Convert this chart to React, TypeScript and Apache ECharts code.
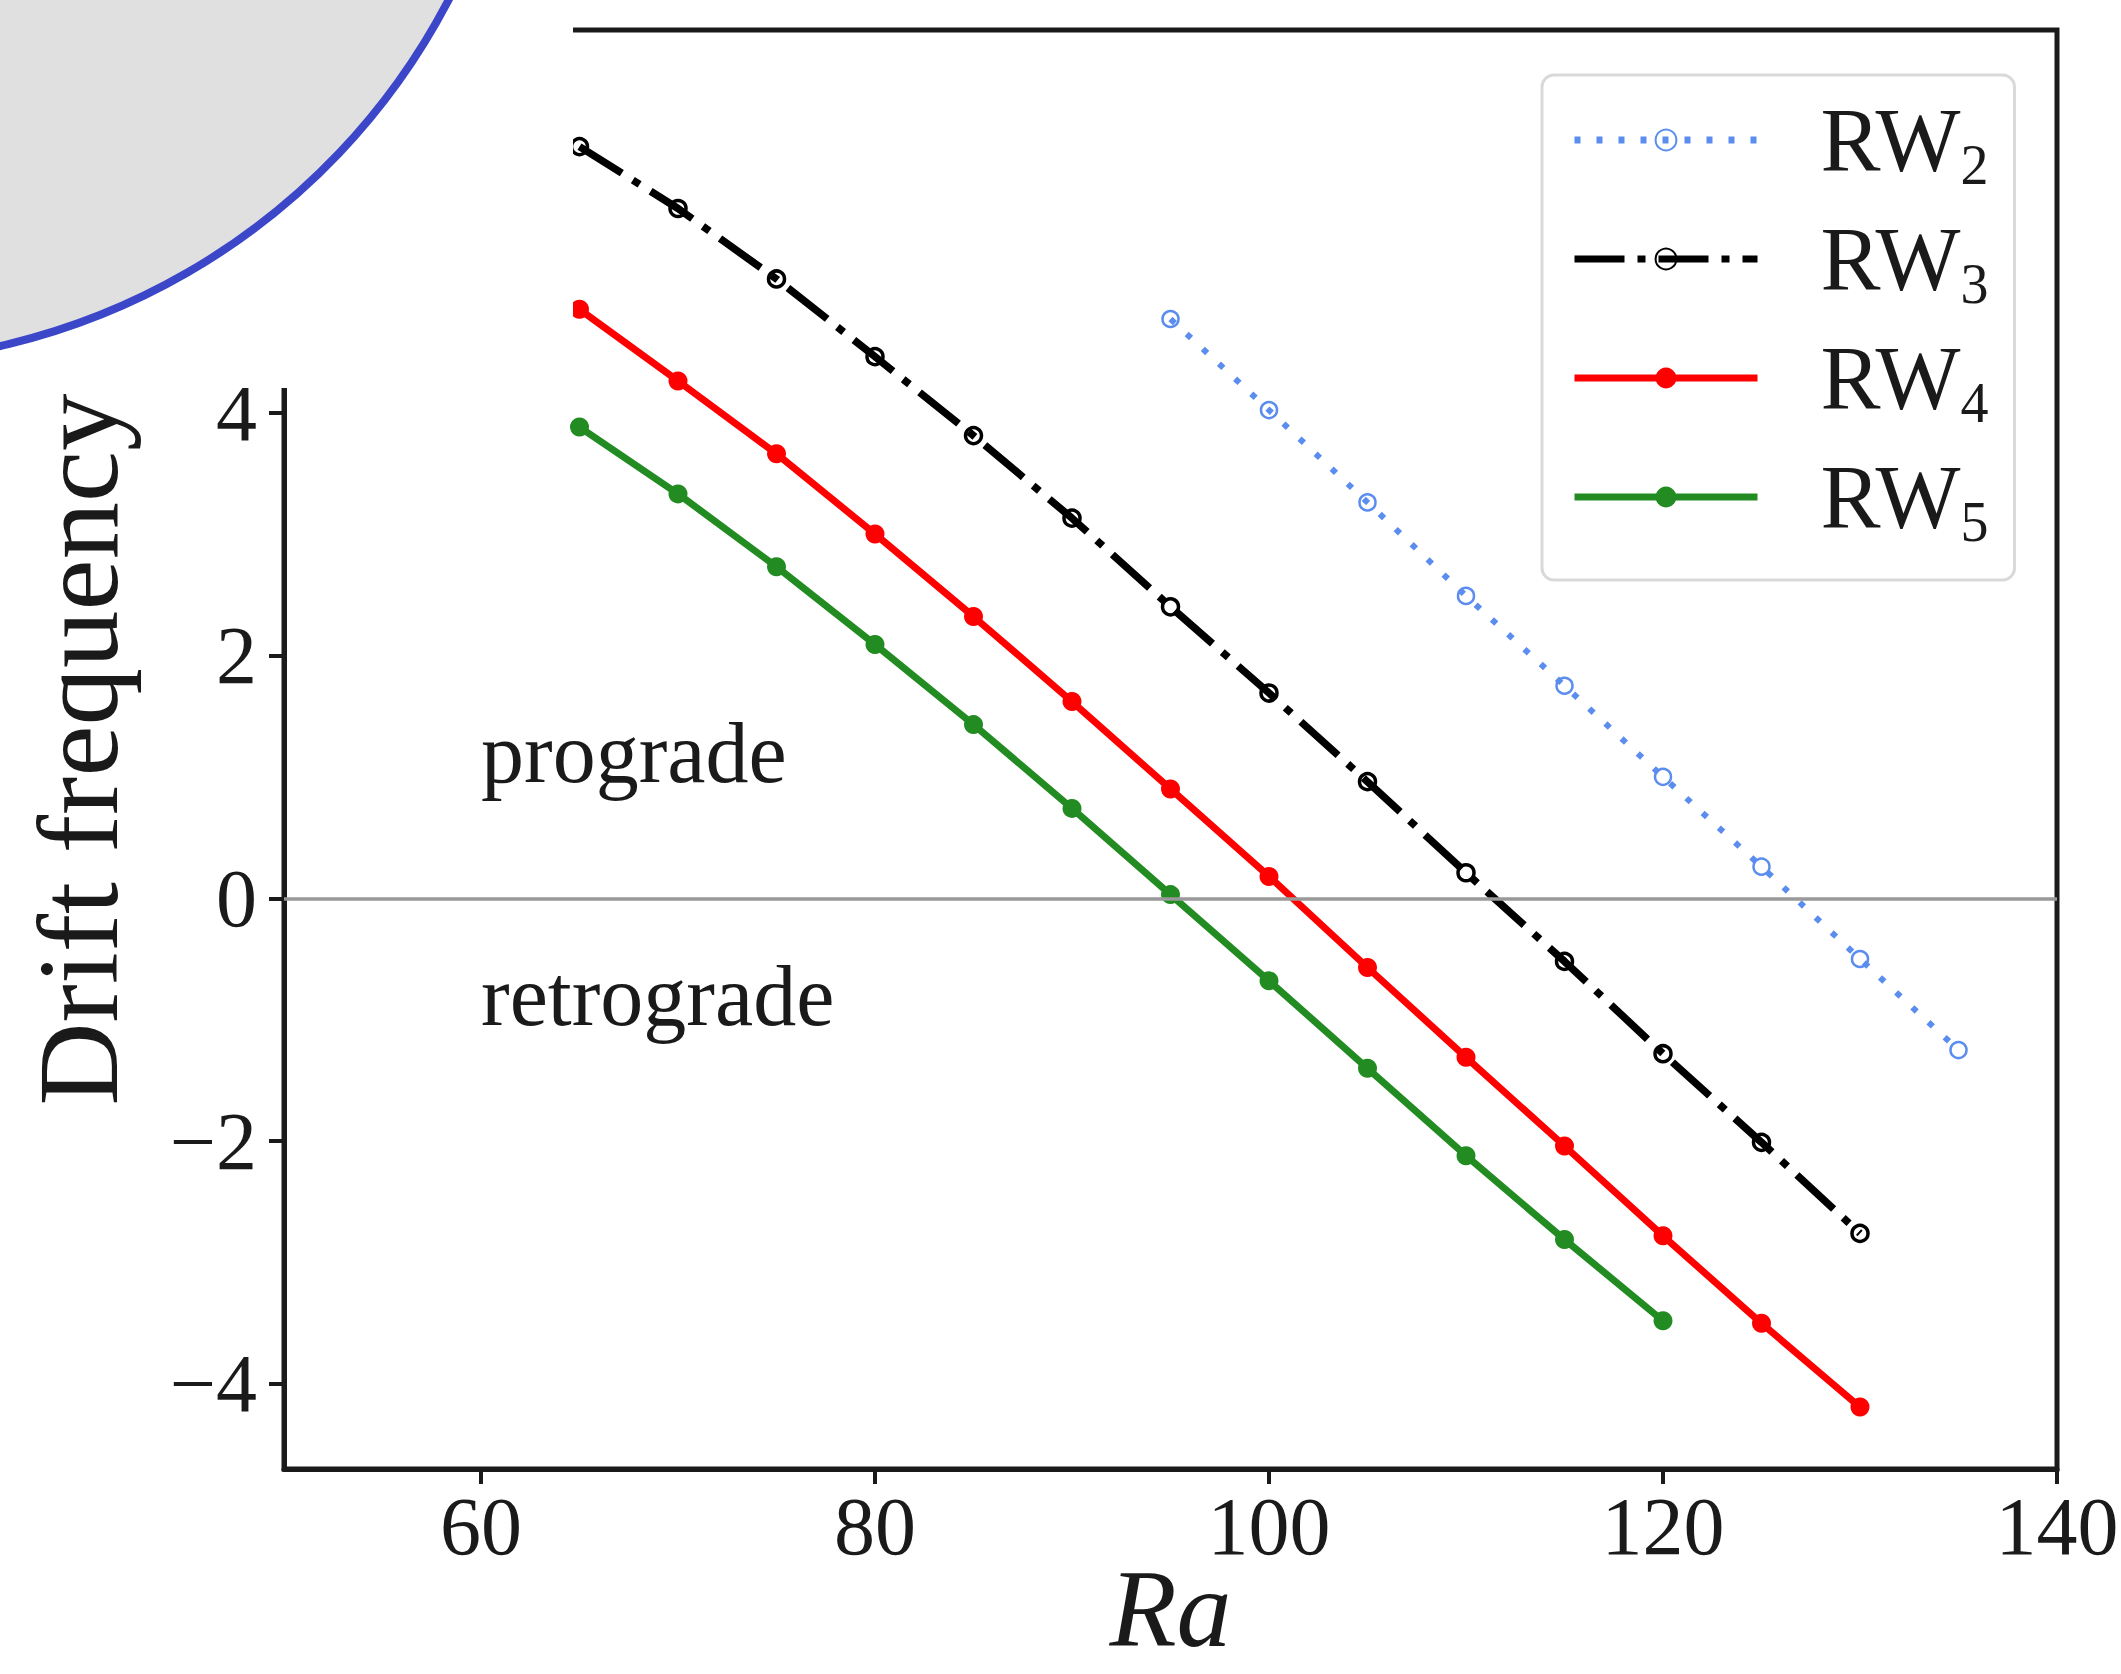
import React, { useEffect, useRef } from "react";
import * as echarts from "echarts";

// ---------- data ----------
const RA_RW2 = [95, 100, 105, 110, 115, 120, 125, 130, 135];
const RW2 = [4.77, 4.02, 3.26, 2.49, 1.75, 1.0, 0.26, -0.5, -1.25];

const RA_RW3 = [65, 70, 75, 80, 85, 90, 95, 100, 105, 110, 115, 120, 125, 130];
const RW3 = [6.19, 5.68, 5.1, 4.46, 3.81, 3.13, 2.4, 1.69, 0.96, 0.21, -0.52, -1.28, -2.01, -2.76];

const RA_RW4 = [65, 70, 75, 80, 85, 90, 95, 100, 105, 110, 115, 120, 125, 130];
const RW4 = [4.85, 4.26, 3.66, 3.0, 2.32, 1.62, 0.9, 0.18, -0.57, -1.31, -2.04, -2.78, -3.5, -4.19];

const RA_RW5 = [65, 70, 75, 80, 85, 90, 95, 100, 105, 110, 115, 120];
const RW5 = [3.88, 3.33, 2.73, 2.09, 1.43, 0.74, 0.03, -0.68, -1.4, -2.12, -2.81, -3.48];

const X_TICKS = [60, 80, 100, 120, 140];
const Y_TICKS = [-4, -2, 0, 2, 4, 6];

const ANNOTATIONS = [
  { text: "prograde", x: 60, y: 1 },
  { text: "retrograde", x: 60, y: -1 },
];

const FONT = '"Liberation Serif", "DejaVu Serif", serif';
const INK = "#1a1a1a";

const zip = (xs: number[], ys: number[]) => xs.map((x, i) => [x, ys[i]]);

export default function App() {
  const ref = useRef<HTMLDivElement>(null);

  useEffect(() => {
    if (!ref.current) return;
    const chart = echarts.init(ref.current, undefined, { renderer: "svg" });

    const axisCommon = {
      axisLine: { show: true, onZero: false, lineStyle: { color: INK, width: 5 } },
      axisTick: { show: true, inside: false, length: 15, lineStyle: { color: INK, width: 4 } },
      splitLine: { show: false },
    };

    chart.setOption({
      animation: false,
      backgroundColor: "#ffffff",
      grid: {
        left: 284,
        right: 64,
        top: 30,
        bottom: 205,
        containLabel: false,
        outerBoundsMode: "none",
        show: true,
        borderColor: INK,
        borderWidth: 5,
        backgroundColor: "rgba(0,0,0,0)",
      },
      xAxis: {
        type: "value",
        min: 50,
        max: 140,
        ...axisCommon,
        axisTick: { ...axisCommon.axisTick, customValues: X_TICKS },
        axisLabel: {
          customValues: X_TICKS,
          margin: 16,
          color: INK,
          fontFamily: FONT,
          fontSize: 82,
        },
        name: "Ra",
        nameLocation: "middle",
        nameGap: 90,
        nameMoveOverlap: false,
        nameTextStyle: {
          fontFamily: FONT,
          fontStyle: "italic",
          fontSize: 110,
          lineHeight: 100,
          color: INK,
        },
      },
      yAxis: {
        type: "value",
        min: -4.7,
        max: 7.15,
        ...axisCommon,
        axisTick: { ...axisCommon.axisTick, customValues: Y_TICKS },
        axisLabel: {
          customValues: Y_TICKS,
          margin: 27,
          color: INK,
          fontFamily: FONT,
          fontSize: 82,
          formatter: (v: number) => String(v).replace("-", "\u2212"),
        },
        name: "Drift frequency",
        nameLocation: "middle",
        nameGap: 148,
        nameMoveOverlap: false,
        nameTextStyle: { fontFamily: FONT, fontSize: 115, color: INK },
      },
      legend: {
        left: 1542,
        top: 75,
        orient: "vertical",
        data: ["RW2", "RW3", "RW4", "RW5"],
        itemWidth: 183,
        itemHeight: 26,
        itemGap: 13,
        backgroundColor: "rgba(255,255,255,0.85)",
        borderColor: "#d9d9d9",
        borderWidth: 3,
        borderRadius: 12,
        padding: [12, 26, 30, 29],
        lineStyle: { width: 7 },
        formatter: (name: string) => `{r|RW}{s|${name.slice(2)}}`,
        textStyle: {
          color: INK,
          fontFamily: FONT,
          padding: [0, 0, 0, 58],
          rich: {
            r: { fontFamily: FONT, fontSize: 90, lineHeight: 104, color: INK },
            s: { fontFamily: FONT, fontSize: 56, lineHeight: 54, padding: [50, 0, 0, 0], color: INK },
          },
        },
      },
      series: [
        {
          name: "zero",
          type: "line",
          data: [],
          z: 1,
          silent: true,
          markLine: {
            silent: true,
            symbol: "none",
            label: { show: false },
            lineStyle: { color: "#999999", width: 3.5, type: "solid" },
            data: [{ yAxis: 0 }],
          },
        },
        {
          name: "RW2",
          type: "line",
          data: zip(RA_RW2, RW2),
          z: 3,
          symbol: "circle",
          symbolSize: 16,
          lineStyle: { color: "#5b8def", width: 6, type: [6, 16], cap: "butt" },
          itemStyle: { color: "rgba(255,255,255,0)", borderColor: "#5b8def", borderWidth: 2.5 },
        },
        {
          name: "RW3",
          type: "line",
          data: zip(RA_RW3, RW3),
          z: 3,
          symbol: "circle",
          symbolSize: 16,
          lineStyle: { color: "#000000", width: 7.5, type: [50, 13, 8, 13], cap: "butt" },
          itemStyle: { color: "rgba(255,255,255,0)", borderColor: "#000000", borderWidth: 3.5 },
        },
        {
          name: "RW4",
          type: "line",
          data: zip(RA_RW4, RW4),
          z: 3,
          symbol: "circle",
          symbolSize: 19,
          lineStyle: { color: "#ff0000", width: 7 },
          itemStyle: { color: "#ff0000", borderWidth: 0 },
        },
        {
          name: "RW5",
          type: "line",
          data: zip(RA_RW5, RW5),
          z: 3,
          symbol: "circle",
          symbolSize: 19,
          lineStyle: { color: "#228b22", width: 7 },
          itemStyle: { color: "#228b22", borderWidth: 0 },
        },
      ],
    });

    const ANN_SIZE = 86;
    const texts = ANNOTATIONS.map((a, i) => {
      const p = chart.convertToPixel({ gridIndex: 0 }, [a.x, a.y]) as number[];
      return {
        type: "text",
        id: "ann" + i,
        z: 50,
        x: p[0],
        y: p[1] + 19,
        style: {
          text: a.text,
          fontFamily: FONT,
          fontSize: ANN_SIZE,
          fill: INK,
          align: "left",
          verticalAlign: "bottom",
        },
      };
    });

    chart.setOption({
      graphic: [
        ...texts,
        {
          type: "rect",
          id: "cover",
          z: 100,
          shape: { x: 0, y: 0, width: 573, height: 388 },
          style: { fill: "#ffffff" },
        },
        {
          type: "circle",
          id: "disc",
          z: 101,
          shape: { cx: -150, cy: -312, r: 675 },
          style: { fill: "#e0e0e0", stroke: "#3c46c8", lineWidth: 8 },
        },
      ],
    });

    return () => chart.dispose();
  }, []);

  return (
    <div
      ref={ref}
      style={{ position: "fixed", left: 0, top: 0, width: 2121, height: 1674, background: "#fff" }}
    />
  );
}
